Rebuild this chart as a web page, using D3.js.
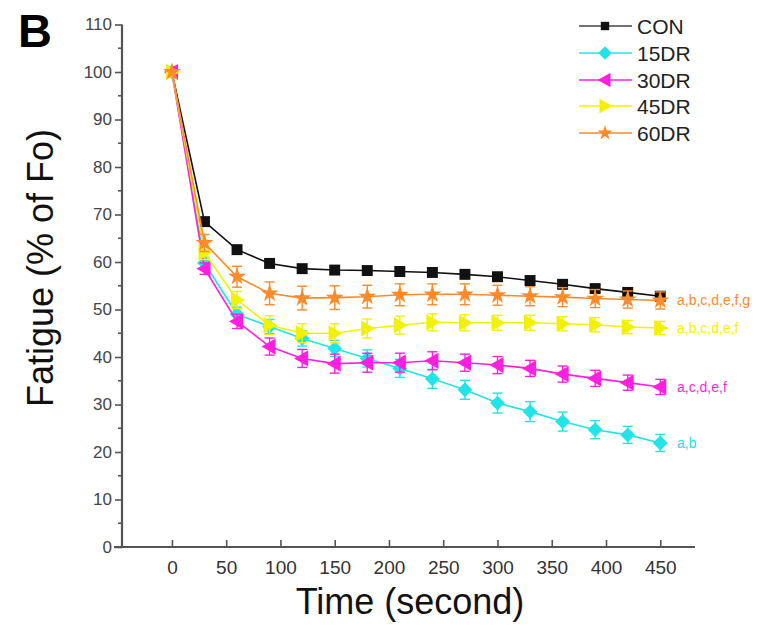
<!DOCTYPE html>
<html>
<head>
<meta charset="utf-8">
<script src="https://cdn.jsdelivr.net/npm/d3@7"></script>
<style>
  html, body { margin: 0; padding: 0; background: #fff; }
  svg { display: block; font-family: "Liberation Sans", Arial, sans-serif; }
</style>
</head>
<body>
<svg id="chart" width="763" height="627"></svg>
<script>
// ---- data ----
const time = [0, 30, 60, 90, 120, 150, 180, 210, 240, 270, 300, 330, 360, 390, 420, 450];
const seriesNames = ["CON", "15DR", "30DR", "45DR", "60DR"];
const valCON  = [100, 68.5, 62.6, 59.7, 58.6, 58.3, 58.2, 58.0, 57.8, 57.4, 56.9, 56.1, 55.3, 54.4, 53.6, 52.8];
const val15DR = [100, 59.8, 49.0, 46.4, 43.9, 41.8, 39.7, 37.6, 35.4, 33.1, 30.3, 28.5, 26.4, 24.7, 23.6, 21.9];
const val30DR = [100, 58.6, 47.5, 42.2, 39.7, 38.6, 38.8, 38.8, 39.2, 38.8, 38.3, 37.6, 36.4, 35.5, 34.6, 33.7];
const val45DR = [100, 62.0, 52.0, 46.7, 45.0, 45.0, 46.0, 46.7, 47.3, 47.2, 47.2, 47.2, 47.0, 46.8, 46.3, 46.1];
const val60DR = [100, 64.0, 56.9, 53.4, 52.4, 52.5, 52.7, 53.1, 53.2, 53.2, 53.0, 52.8, 52.6, 52.3, 52.1, 51.9];
const errCON  = [0, 0.8, 0.8, 0.8, 0.8, 0.8, 0.8, 0.8, 0.8, 0.8, 0.8, 0.8, 0.8, 0.8, 0.8, 0.8];
const err15DR = [0, 1.2, 1.5, 1.5, 1.6, 1.7, 1.8, 1.9, 2.0, 2.0, 2.1, 2.1, 2.0, 1.9, 1.8, 1.8];
const err30DR = [0, 1.2, 1.5, 1.8, 1.9, 2.0, 2.0, 2.0, 1.9, 1.8, 1.8, 1.7, 1.7, 1.7, 1.6, 1.6];
const err45DR = [0, 1.5, 1.8, 2.0, 2.0, 2.0, 2.0, 1.9, 1.8, 1.7, 1.6, 1.6, 1.5, 1.5, 1.4, 1.4];
const err60DR = [0, 1.8, 2.2, 2.4, 2.5, 2.5, 2.4, 2.3, 2.2, 2.2, 2.1, 2.0, 2.0, 1.9, 1.8, 1.8];
const annotations = ["", "a,b", "a,c,d,e,f", "a,b,c,d,e,f", "a,b,c,d,e,f,g"];
const yTicks = [0, 10, 20, 30, 40, 50, 60, 70, 80, 90, 100, 110];
const xTicks = [0, 50, 100, 150, 200, 250, 300, 350, 400, 450];

const values = [valCON, val15DR, val30DR, val45DR, val60DR];
const errors = [errCON, err15DR, err30DR, err45DR, err60DR];
const colors = ["#111111", "#22e3e8", "#ff1fe0", "#f2f200", "#ff8a2a"];

// ---- layout ----
const svg = d3.select("#chart");
const x = d3.scaleLinear().domain([-46, 482]).range([122, 695]);
const y = d3.scaleLinear().domain([0, 110]).range([547, 24.5]);

// symbols
const triLeft = {
  draw(ctx, size) {
    const r = Math.sqrt(size / 1.3);
    ctx.moveTo(-r, 0); ctx.lineTo(r * 0.75, -r); ctx.lineTo(r * 0.75, r); ctx.closePath();
  }
};
const triRight = {
  draw(ctx, size) {
    const r = Math.sqrt(size / 1.3);
    ctx.moveTo(r, 0); ctx.lineTo(-r * 0.75, -r); ctx.lineTo(-r * 0.75, r); ctx.closePath();
  }
};
const rhombus = {
  draw(ctx, size) {
    const r = Math.sqrt(size / 2);
    ctx.moveTo(0, -r); ctx.lineTo(r, 0); ctx.lineTo(0, r); ctx.lineTo(-r, 0); ctx.closePath();
  }
};
const symbolTypes = [d3.symbolSquare, rhombus, triLeft, triRight, d3.symbolStar];
const symbolSizes = [120, 110, 85, 85, 100];
const legendSizes = [70, 90, 70, 70, 70];

// ---- axes ----
const axisColor = "#555";
const yAxis = d3.axisLeft(y).tickValues(yTicks).tickSize(7).tickPadding(3).tickFormat(d3.format("d"));
const gy = svg.append("g").attr("transform", "translate(122,0)").call(yAxis);
gy.select(".domain").attr("d", `M0,${y(0)}V${y(110)}`);
// minor ticks
gy.selectAll(".minor").data(d3.range(5, 110, 10)).enter().append("line")
  .attr("class", "minor").attr("x1", -4).attr("x2", 0)
  .attr("y1", d => y(d)).attr("y2", d => y(d));
gy.selectAll("line").attr("stroke", axisColor).attr("stroke-width", 1.6);
gy.select(".domain").attr("stroke", axisColor).attr("stroke-width", 2.2);
gy.selectAll("text").attr("font-size", 17).attr("fill", "#444")
  .attr("font-family", "'Liberation Sans', Arial, sans-serif");

const xAxis = d3.axisBottom(x).tickValues(xTicks).tickSize(-7).tickPadding(14).tickFormat(d3.format("d"));
const gx = svg.append("g").attr("transform", `translate(0,${y(0)})`).call(xAxis);
gx.select(".domain").attr("d", `M${x.range()[0] - 8},0H${x.range()[1]}`);
gx.selectAll("line").attr("stroke", axisColor).attr("stroke-width", 1.6);
gx.select(".domain").attr("stroke", axisColor).attr("stroke-width", 2.2);
gx.selectAll("text").attr("font-size", 19).attr("fill", "#333")
  .attr("font-family", "'Liberation Sans', Arial, sans-serif");

// ---- series ----
const line = d3.line().x((d, i) => x(time[i])).y(d => y(d));
seriesNames.forEach((name, s) => {
  const g = svg.append("g");
  const col = colors[s];
  g.append("path").datum(values[s]).attr("d", line)
    .attr("fill", "none").attr("stroke", col).attr("stroke-width", 1.6);
  // error bars
  values[s].forEach((v, i) => {
    const e = errors[s][i];
    if (e <= 0) return;
    const cx = x(time[i]);
    g.append("line").attr("x1", cx).attr("x2", cx).attr("y1", y(v - e)).attr("y2", y(v + e))
      .attr("stroke", col).attr("stroke-width", 1.4);
    [v - e, v + e].forEach(t => {
      g.append("line").attr("x1", cx - 5).attr("x2", cx + 5).attr("y1", y(t)).attr("y2", y(t))
        .attr("stroke", col).attr("stroke-width", 1.4);
    });
  });
  g.selectAll(".pt").data(values[s]).enter().append("path")
    .attr("class", "pt")
    .attr("transform", (d, i) => `translate(${x(time[i])},${y(d)})`)
    .attr("d", d3.symbol().type(symbolTypes[s]).size(symbolSizes[s]))
    .attr("fill", col);
  if (annotations[s]) {
    svg.append("text").attr("x", 677).attr("y", y(values[s][time.length - 1]) + 5)
      .attr("font-size", 14).attr("fill", col).text(annotations[s]);
  }
});

// ---- legend ----
const legY = [26, 53, 80, 106, 133];
seriesNames.forEach((name, s) => {
  const g = svg.append("g").attr("transform", `translate(0,${legY[s]})`);
  g.append("line").attr("x1", 579).attr("x2", 632).attr("y1", 0).attr("y2", 0)
    .attr("stroke", s === 0 ? "#444" : colors[s]).attr("stroke-width", 1.6);
  g.append("path").attr("transform", "translate(605,0)")
    .attr("d", d3.symbol().type(symbolTypes[s]).size(legendSizes[s]))
    .attr("fill", colors[s]);
  g.append("text").attr("x", 637).attr("y", 7.5).attr("font-size", 21).attr("fill", "#222").text(name);
});

// ---- titles ----
svg.append("text").attr("x", 18).attr("y", 47).attr("font-size", 47).attr("font-weight", "bold")
  .attr("fill", "#000").text("B");
svg.append("text").attr("transform", "translate(53,268) rotate(-90)").attr("text-anchor", "middle")
  .attr("font-size", 36).attr("fill", "#111").text("Fatigue (% of Fo)");
svg.append("text").attr("x", 410).attr("y", 614).attr("text-anchor", "middle")
  .attr("font-size", 36).attr("fill", "#111").text("Time (second)");
</script>
</body>
</html>
